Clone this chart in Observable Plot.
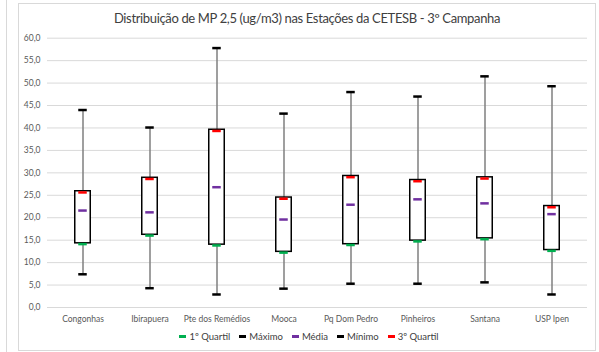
<!DOCTYPE html>
<html>
<head>
<meta charset="utf-8">
<script src="https://cdn.jsdelivr.net/npm/d3@7"></script>
<script src="https://cdn.jsdelivr.net/npm/@observablehq/plot@0.6"></script>
<style>
  html, body { margin: 0; padding: 0; background: #fff; }
  body { width: 599px; height: 352px; position: relative; overflow: hidden; font-family: Lato, "Open Sans", sans-serif; }
  #sheetline { position: absolute; left: 6px; top: 0; width: 1px; height: 352px; background: #d9d9d9; }
  #frame { position: absolute; left: 18px; top: 3px; width: 576px; height: 346px; border: 1px solid #d9d9d9; background: #fff; }
  #title { height: 25px; line-height: 28px; text-align: center; font-size: 13px; letter-spacing: -0.35px; color: #404040; white-space: nowrap; }
  #chart svg { display: block; }
  #legend { display: flex; justify-content: center; gap: 9px; font-size: 9.5px; color: #404040; margin-top: 2px; padding-left: 4px; }
  #legend span.item { display: inline-flex; align-items: center; }
  #legend i { display: inline-block; width: 7px; height: 2.5px; margin-right: 3px; }
</style>
</head>
<body>
<div id="sheetline"></div>
<div id="frame">
  <div id="title">Distribuição de MP 2,5 (ug/m3) nas Estações da CETESB - 3º Campanha</div>
  <div id="chart"></div>
  <div id="legend"></div>
</div>
<script>
// Estações de monitoramento
const estacoes = ["Congonhas", "Ibirapuera", "Pte dos Remédios", "Mooca", "Pq Dom Pedro", "Pinheiros", "Santana", "USP Ipen"];
// Estatísticas de MP 2,5 (ug/m3)
const minimo   = [7.4, 4.3, 2.9, 4.2, 5.3, 5.3, 5.6, 2.9];
const quartil1 = [14.3, 16.2, 14.0, 12.4, 14.1, 14.9, 15.4, 12.8];
const media    = [21.6, 21.2, 26.8, 19.6, 22.9, 24.1, 23.2, 20.8];
const quartil3 = [25.9, 28.9, 39.6, 24.5, 29.3, 28.4, 29.0, 22.6];
const maximo   = [44.0, 40.1, 57.8, 43.2, 48.0, 47.0, 51.5, 49.3];
const yTicks   = [0, 5, 10, 15, 20, 25, 30, 35, 40, 45, 50, 55, 60];

const cores = { q1: "#00b050", max: "#000000", media: "#7030a0", min: "#000000", q3: "#ff0000" };

const dados = estacoes.map((e, i) => ({
  estacao: e, min: minimo[i], q1: quartil1[i], media: media[i], q3: quartil3[i], max: maximo[i]
}));

const fmt = d => d.toFixed(1).replace(".", ",");
const band = 540 / estacoes.length;
const insetFor = w => (band - w) / 2;

const chart = Plot.plot({
  width: 576,
  height: 300,
  marginLeft: 28,
  marginRight: 8,
  marginTop: 8.7,
  marginBottom: 22,
  style: { fontFamily: "Lato, 'Open Sans', sans-serif", color: "#595959", background: "transparent" },
  x: { domain: estacoes, padding: 0, label: null, tickSize: 0, tickPadding: 8 },
  y: { domain: [0, 60], ticks: yTicks, tickFormat: fmt, label: null, tickSize: 0, tickPadding: 7 },
  marks: [
    Plot.gridY(yTicks, { stroke: "#d9d9d9", strokeOpacity: 1, strokeWidth: 1 }),
    Plot.axisY({ ticks: yTicks, tickFormat: fmt, tickSize: 0, tickPadding: 7, fontSize: 8.5, label: null, fill: "#595959" }),
    Plot.axisX({ tickSize: 0, tickPadding: 8, fontSize: 8.5, label: null, fill: "#595959" }),
    // hastes mínimo–máximo
    Plot.ruleX(dados, { x: "estacao", y1: "min", y2: "max", stroke: "#7f7f7f", strokeWidth: 1.5 }),
    // caixa entre 1º e 3º quartil
    Plot.barY(dados, { x: "estacao", y1: "q1", y2: "q3", fill: "white", stroke: "#000", strokeWidth: 1.5,
      insetLeft: insetFor(16), insetRight: insetFor(16) }),
    // marcadores
    Plot.tickY(dados, { x: "estacao", y: "max", stroke: cores.max, strokeWidth: 2.5, inset: insetFor(9) }),
    Plot.tickY(dados, { x: "estacao", y: "min", stroke: cores.min, strokeWidth: 2.5, inset: insetFor(9) }),
    Plot.tickY(dados, { x: "estacao", y: "q3", stroke: cores.q3, strokeWidth: 2.5, dy: 1.2, inset: insetFor(9) }),
    Plot.tickY(dados, { x: "estacao", y: "q1", stroke: cores.q1, strokeWidth: 2.5, dy: 0.8, inset: insetFor(9) }),
    Plot.tickY(dados, { x: "estacao", y: "media", stroke: cores.media, strokeWidth: 2.5, inset: insetFor(9) })
  ]
});
document.getElementById("chart").appendChild(chart);

// legenda
const itens = [
  ["1º Quartil", cores.q1], ["Máximo", cores.max], ["Média", cores.media], ["Mínimo", cores.min], ["3º Quartil", cores.q3]
];
const leg = document.getElementById("legend");
for (const [nome, cor] of itens) {
  const s = document.createElement("span");
  s.className = "item";
  const m = document.createElement("i");
  m.style.background = cor;
  s.appendChild(m);
  s.appendChild(document.createTextNode(nome));
  leg.appendChild(s);
}
</script>
</body>
</html>
